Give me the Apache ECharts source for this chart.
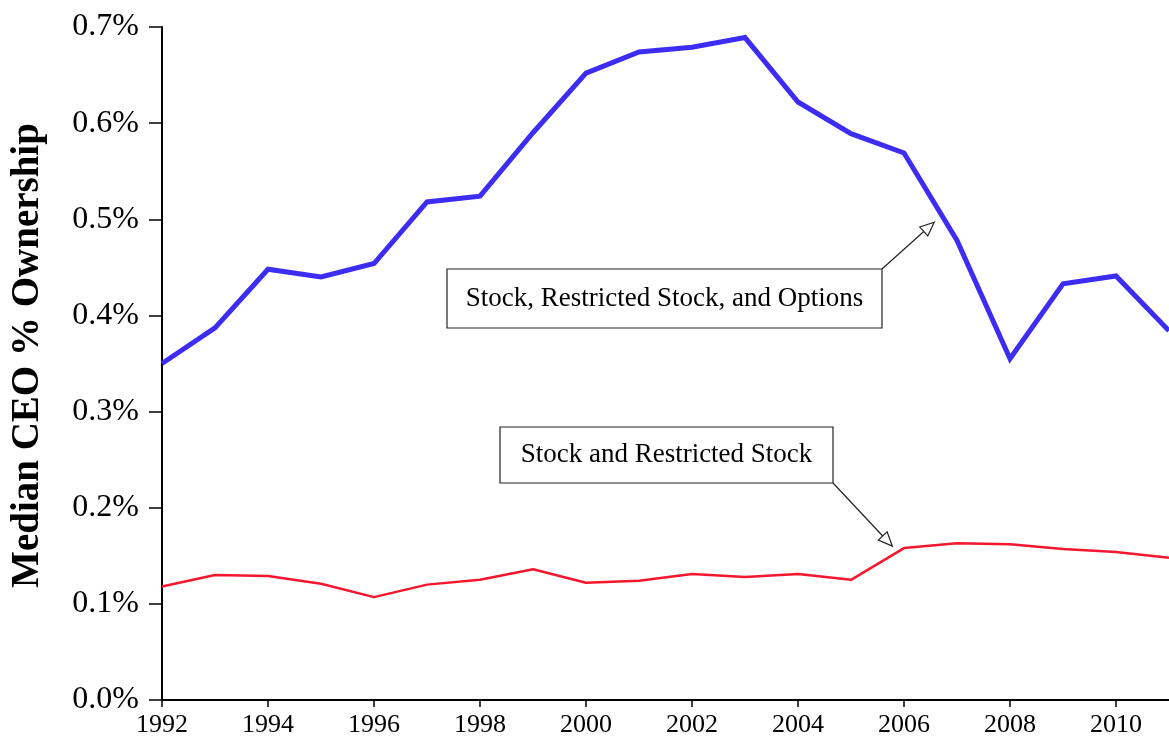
<!DOCTYPE html>
<html>
<head>
<meta charset="utf-8">
<script src="https://cdn.jsdelivr.net/npm/echarts@6/dist/echarts.min.js"></script>
<style>
  html, body { margin: 0; padding: 0; background: #ffffff; }
  #chart { width: 1169px; height: 738px; }
</style>
</head>
<body>
<div id="chart"></div>
<script>
// ---- data (percent ownership) ----
const years = [1992, 1993, 1994, 1995, 1996, 1997, 1998, 1999, 2000, 2001, 2002, 2003, 2004, 2005, 2006, 2007, 2008, 2009, 2010, 2011];
const allOwnership = [0.350, 0.387, 0.448, 0.440, 0.454, 0.518, 0.524, 0.590, 0.652, 0.674, 0.679, 0.689, 0.622, 0.589, 0.569, 0.478, 0.355, 0.433, 0.441, 0.384];
const stockOwnership = [0.118, 0.130, 0.129, 0.121, 0.107, 0.120, 0.125, 0.136, 0.122, 0.124, 0.131, 0.128, 0.131, 0.125, 0.158, 0.163, 0.162, 0.157, 0.154, 0.148];
const yTicks = [0.0, 0.1, 0.2, 0.3, 0.4, 0.5, 0.6, 0.7];
const xTicks = [1992, 1994, 1996, 1998, 2000, 2002, 2004, 2006, 2008, 2010];
const yTitle = 'Median CEO % Ownership';
const labelAll = 'Stock, Restricted Stock, and Options';
const labelStock = 'Stock and Restricted Stock';
// annotation arrow tips in data space [year, percent]
const tipAll = [2006.57, 0.497];
const tipStock = [2005.78, 0.160];

const serif = '"Liberation Serif", "Times New Roman", Times, serif';

const chart = echarts.init(document.getElementById('chart'), null, { renderer: 'canvas' });

const pairs = (xs, ys) => xs.map((x, i) => [x, ys[i]]);

chart.setOption({
  animation: false,
  backgroundColor: '#ffffff',
  grid: { left: 160, right: -4, top: 27, bottom: 38, containLabel: false },
  xAxis: {
    type: 'value',
    min: years[0],
    max: years[years.length - 1],
    interval: 2,
    axisLine: { show: true, onZero: false, lineStyle: { color: '#000', width: 2 } },
    axisTick: { show: true, length: 7, lineStyle: { color: '#000', width: 1.5 } },
    splitLine: { show: false },
    axisLabel: {
      showMaxLabel: false,
      color: '#000', fontFamily: serif, fontSize: 26, margin: 12,
      formatter: v => (xTicks.indexOf(v) >= 0 ? String(v) : '')
    }
  },
  yAxis: {
    type: 'value',
    min: yTicks[0],
    max: yTicks[yTicks.length - 1],
    interval: 0.1,
    name: yTitle,
    nameLocation: 'middle',
    nameGap: 115,
    nameTextStyle: { color: '#000', fontFamily: serif, fontSize: 39, fontWeight: 'bold', padding: [0, 0, 0, 16] },
    axisLine: { show: true, lineStyle: { color: '#000', width: 2 } },
    axisTick: { show: true, length: 13, lineStyle: { color: '#000', width: 1.5 } },
    splitLine: { show: false },
    axisLabel: {
      color: '#000', fontFamily: serif, fontSize: 32, margin: 23,
      formatter: v => v.toFixed(1) + '%'
    }
  },
  series: [
    {
      name: labelAll, type: 'line', data: pairs(years, allOwnership),
      symbol: 'none', lineStyle: { color: '#3c2cf4', width: 5, join: 'miter' }, z: 3
    },
    {
      name: labelStock, type: 'line', data: pairs(years, stockOwnership),
      symbol: 'none', lineStyle: { color: '#f5172e', width: 2.5 }, z: 3
    }
  ]
});

function arrowGraphic(from, tip) {
  const dx = tip[0] - from[0], dy = tip[1] - from[1];
  const len = Math.sqrt(dx * dx + dy * dy);
  const ux = dx / len, uy = dy / len;
  const headLen = 14, headW = 6;
  const bx = tip[0] - ux * headLen, by = tip[1] - uy * headLen;
  const px = -uy, py = ux;
  return [
    { type: 'line', shape: { x1: from[0], y1: from[1], x2: bx, y2: by },
      style: { stroke: '#222', lineWidth: 1.2 }, z: 10 },
    { type: 'polygon', shape: { points: [[tip[0], tip[1]], [bx + px * headW, by + py * headW], [bx - px * headW, by - py * headW]] },
      style: { fill: '#fff', stroke: '#222', lineWidth: 1.2 }, z: 10 }
  ];
}

function boxGraphic(x, y, w, h, text) {
  return [
    { type: 'rect', shape: { x: x, y: y, width: w, height: h },
      style: { fill: '#fff', stroke: '#222', lineWidth: 1.2 }, z: 10 },
    { type: 'text', x: x + w / 2, y: y + h / 2,
      style: { text: text, fill: '#000', font: '27px ' + serif, align: 'center', verticalAlign: 'middle' }, z: 11 }
  ];
}

const tip1 = chart.convertToPixel({ gridIndex: 0 }, tipAll);
const tip2 = chart.convertToPixel({ gridIndex: 0 }, tipStock);
const box1 = { x: 447, y: 269, w: 435, h: 59 };
const box2 = { x: 500, y: 427, w: 333, h: 56 };

chart.setOption({
  graphic: [].concat(
    boxGraphic(box1.x, box1.y, box1.w, box1.h, labelAll),
    arrowGraphic([box1.x + box1.w, box1.y], tip1),
    boxGraphic(box2.x, box2.y, box2.w, box2.h, labelStock),
    arrowGraphic([box2.x + box2.w, box2.y + box2.h], tip2)
  )
});
</script>
</body>
</html>
